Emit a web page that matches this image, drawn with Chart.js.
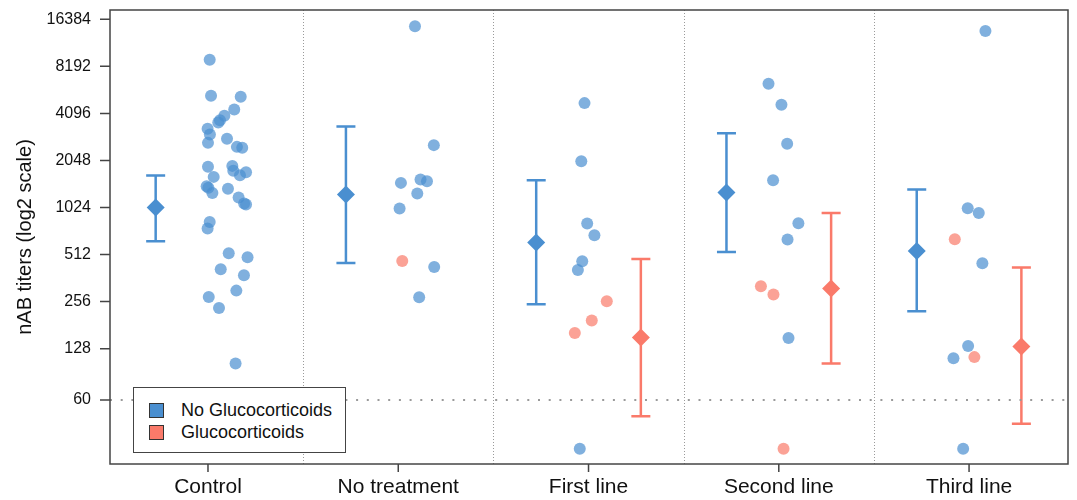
<!DOCTYPE html>
<html>
<head>
<meta charset="utf-8">
<script src="https://cdn.jsdelivr.net/npm/chart.js@4.4.0/dist/chart.umd.min.js"></script>
<style>
  html, body { margin: 0; padding: 0; background: #fff; }
  #wrap { position: relative; width: 1077px; height: 500px; }
  #legend {
    position: absolute; left: 133px; top: 387px; width: 213px; height: 66px;
    border: 1.5px solid #444; background: #fff; box-sizing: border-box;
    font-family: "Liberation Sans", Arial, sans-serif; font-size: 18px; color: #111;
    padding: 11px 0 0 15px;
  }
  #legend .row { display: flex; align-items: center; height: 22px; }
  #legend .sw { width: 13px; height: 13px; border: 1px solid #333; margin-right: 17px; }
</style>
</head>
<body>
<div id="wrap">
  <canvas id="chart" width="1077" height="500"></canvas>
  <div id="legend">
    <div class="row"><span class="sw" style="background:#4a8fd0"></span>No Glucocorticoids</div>
    <div class="row"><span class="sw" style="background:#fa7a6a"></span>Glucocorticoids</div>
  </div>
</div>
<script>
// catégories et ticks
const categories = ['Control', 'No treatment', 'First line', 'Second line', 'Third line'];
const yTicks = [60, 128, 256, 512, 1024, 2048, 4096, 8192, 16384];
const detectionLimit = 60;

// points individuels, patients sans glucocorticoïdes
const noGcValues = [
    [9030, 5308, 5230, 4344, 3954, 3709, 3587, 3264, 3004, 2654, 2817, 2502, 2466, 1864, 1608, 1891, 1757, 1724,
     1649, 1402, 1368, 1270, 1348, 1187, 1086, 1071, 828, 751, 522, 492, 412, 377, 301, 274, 233, 103],
    [14775, 2567, 1472, 1548, 1510, 1259, 1009, 426, 273],
    [4767, 2027, 809, 681, 464, 408, 29.3],
    [6338, 4650, 2616, 1532, 812, 639, 150, 29.3],
    [13800, 1014, 945, 450, 133, 111, 29.3]
];
const noGcJitter = [
    [0.009, 0.016, 0.172, 0.138, 0.086, 0.063, 0.054, -0.002, 0.01, 0, 0.1, 0.152, 0.18, 0, 0.03, 0.128, 0.133, 0.2,
     0.168, -0.007, 0.002, 0.023, 0.105, 0.161, 0.19, 0.2, 0.009, -0.002, 0.109, 0.208, 0.067, 0.189, 0.149, 0.004, 0.058, 0.145],
    [0.088, 0.187, 0.014, 0.117, 0.151, 0.1, 0.007, 0.189, 0.11],
    [-0.021, -0.038, -0.007, 0.031, -0.033, -0.056, -0.046],
    [-0.054, 0.014, 0.044, -0.03, 0.103, 0.046, 0.051],
    [0.086, -0.007, 0.051, 0.07, -0.005, -0.082, -0.031]
];

// points individuels, patients sous glucocorticoïdes
const gcValues = [[], [466], [257, 194, 161], [321, 284, 29.3], [642, 113]];
const gcJitter = [[], [0.021], [0.096, 0.017, -0.072], [-0.094, -0.028, 0.025], [-0.075, 0.028]];

// résumés (moyenne géométrique et IC)
const noGcMean = [1024, 1241, 611, 1278, 540];
const noGcLow = [623, 452, 246, 532, 222];
const noGcHigh = [1642, 3380, 1532, 3063, 1336];
const gcMean = [null, null, 150.6, 311, 132];
const gcLow = [null, null, 47.2, 103, 42.3];
const gcHigh = [null, null, 480, 945, 423];

const blue = '#4a8fd0';
const red = '#fa7a6a';
const blueSoft = 'rgba(74, 143, 208, 0.7)';
const redSoft = 'rgba(250, 122, 106, 0.7)';
const summaryShift = 0.275;

function toPoints(values, jitter) {
    const out = [];
    values.forEach((group, i) => {
        group.forEach((v, j) => out.push({ x: i + jitter[i][j], y: v }));
    });
    return out;
}

function toSummary(mean, shift) {
    return mean.map((m, i) => (m === null ? null : { x: i + shift, y: m })).filter((p) => p !== null);
}

// séparateurs verticaux pointillés, barres d'erreur, cadre et graduations
const framePlugin = {
    id: 'frame',
    beforeDatasetsDraw(chart) {
        const { ctx, chartArea, scales } = chart;
        ctx.save();
        ctx.strokeStyle = '#9a9a9a';
        ctx.lineWidth = 1;
        ctx.setLineDash([1, 2]);
        for (let i = 0; i < categories.length - 1; i++) {
            const x = Math.round(scales.x.getPixelForValue(i + 0.5)) + 0.5;
            ctx.beginPath();
            ctx.moveTo(x, chartArea.top);
            ctx.lineTo(x, chartArea.bottom);
            ctx.stroke();
        }
        ctx.restore();

        const drawBar = (mean, low, high, shift, color) => {
            ctx.save();
            ctx.strokeStyle = color;
            ctx.lineWidth = 2.5;
            mean.forEach((m, i) => {
                if (m === null) return;
                const x = scales.x.getPixelForValue(i + shift);
                const yl = scales.y.getPixelForValue(low[i]);
                const yh = scales.y.getPixelForValue(high[i]);
                ctx.beginPath();
                ctx.moveTo(x, yl);
                ctx.lineTo(x, yh);
                ctx.moveTo(x - 9.5, yl);
                ctx.lineTo(x + 9.5, yl);
                ctx.moveTo(x - 9.5, yh);
                ctx.lineTo(x + 9.5, yh);
                ctx.stroke();
            });
            ctx.restore();
        };
        drawBar(noGcMean, noGcLow, noGcHigh, -summaryShift, blue);
        drawBar(gcMean, gcLow, gcHigh, summaryShift, red);
    },
    afterDraw(chart) {
        const { ctx, chartArea, scales } = chart;
        ctx.save();
        ctx.strokeStyle = '#444';
        ctx.lineWidth = 1.5;
        ctx.strokeRect(chartArea.left, chartArea.top, chartArea.right - chartArea.left, chartArea.bottom - chartArea.top);
        ctx.beginPath();
        yTicks.forEach((v) => {
            const y = scales.y.getPixelForValue(v);
            ctx.moveTo(chartArea.left - 10, y);
            ctx.lineTo(chartArea.left, y);
        });
        categories.forEach((c, i) => {
            const x = scales.x.getPixelForValue(i);
            ctx.moveTo(x, chartArea.bottom);
            ctx.lineTo(x, chartArea.bottom + 8);
        });
        ctx.stroke();
        ctx.restore();
    }
};

const ctx = document.getElementById('chart');
new Chart(ctx, {
    type: 'scatter',
    data: {
        datasets: [
            {
                label: 'No Glucocorticoids (moyenne)',
                data: toSummary(noGcMean, -summaryShift),
                backgroundColor: blue,
                borderWidth: 0,
                pointStyle: 'rectRot',
                pointRadius: 9,
                order: 1
            },
            {
                label: 'Glucocorticoids (moyenne)',
                data: toSummary(gcMean, summaryShift),
                backgroundColor: red,
                borderWidth: 0,
                pointStyle: 'rectRot',
                pointRadius: 9,
                order: 1
            },
            {
                label: 'No Glucocorticoids',
                data: toPoints(noGcValues, noGcJitter),
                backgroundColor: blueSoft,
                borderWidth: 0,
                pointRadius: 6,
                order: 2
            },
            {
                label: 'Glucocorticoids',
                data: toPoints(gcValues, gcJitter),
                backgroundColor: redSoft,
                borderWidth: 0,
                pointRadius: 6,
                order: 2
            },
            {
                label: 'Limite de détection',
                type: 'line',
                data: [{ x: -0.515, y: detectionLimit }, { x: 4.52, y: detectionLimit }],
                borderColor: '#9a9a9a',
                borderWidth: 2,
                borderDash: [2, 8.7],
                pointRadius: 0,
                order: 3
            }
        ]
    },
    options: {
        responsive: false,
        animation: false,
        layout: { padding: { top: 10, right: 8, left: 0, bottom: 0 } },
        plugins: {
            legend: { display: false },
            tooltip: { enabled: false }
        },
        scales: {
            x: {
                type: 'linear',
                min: -0.515,
                max: 4.52,
                afterBuildTicks: (scale) => {
                    scale.ticks = categories.map((c, i) => ({ value: i }));
                },
                afterFit: (scale) => { scale.height = 36; },
                grid: { display: false, drawTicks: true, tickLength: 8 },
                border: { display: false },
                ticks: {
                    callback: (v) => categories[v],
                    font: { family: '"Liberation Sans", Arial, sans-serif', size: 21 },
                    color: '#111',
                    padding: 3,
                    maxRotation: 0
                }
            },
            y: {
                type: 'logarithmic',
                min: 23.4,
                max: 18795,
                afterBuildTicks: (scale) => {
                    scale.ticks = yTicks.map((v) => ({ value: v }));
                },
                afterFit: (scale) => {
                    scale.width = 110;
                    scale.paddingTop = 0;
                    scale.paddingBottom = 0;
                },
                grid: { display: false, drawTicks: true, tickLength: 9 },
                border: { display: false },
                title: {
                    display: true,
                    text: 'nAB titers (log2 scale)',
                    font: { family: '"Liberation Sans", Arial, sans-serif', size: 20 },
                    color: '#111',
                    padding: { top: 13, bottom: 0 }
                },
                ticks: {
                    callback: (v) => String(v),
                    font: { family: '"Liberation Sans", Arial, sans-serif', size: 16 },
                    color: '#111',
                    padding: 10
                }
            }
        }
    },
    plugins: [framePlugin]
});
</script>
</body>
</html>
